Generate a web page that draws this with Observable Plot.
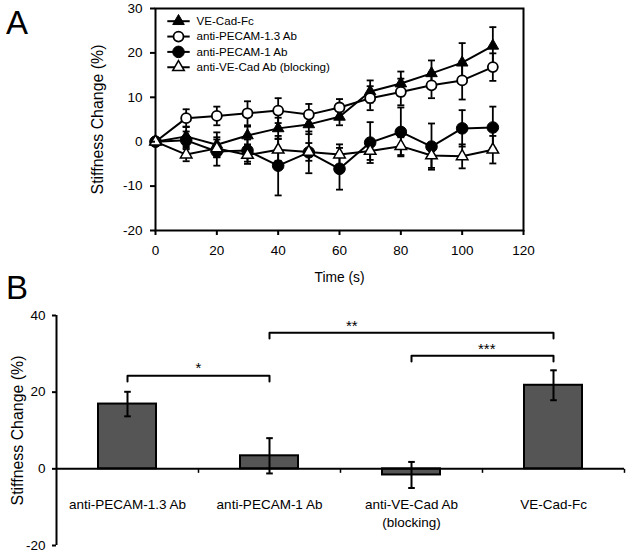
<!DOCTYPE html>
<html>
<head>
<meta charset="utf-8">
<script src="https://cdn.jsdelivr.net/npm/d3@7"></script>
<script src="https://cdn.jsdelivr.net/npm/@observablehq/plot@0.6"></script>
<style>
  body { margin: 0; background: #fff; font-family: "Liberation Sans", Arial, sans-serif; }
  #wrap { position: relative; width: 630px; height: 554px; overflow: hidden; background: #fff; }
  #wrap svg { position: absolute; }
  .panel { position: absolute; font-size: 33px; line-height: 1; color: #000; }
</style>
</head>
<body>
<div id="wrap">
  <div class="panel" style="left:6px; top:6px;">A</div>
  <div class="panel" style="left:6px; top:271px;">B</div>
</div>
<script>
// ---------- Panel A data ----------
const times = [0, 10, 20, 30, 40, 50, 60, 70, 80, 90, 100, 110];
const seriesNames = ["VE-Cad-Fc", "anti-PECAM-1.3 Ab", "anti-PECAM-1 Ab", "anti-VE-Cad Ab (blocking)"];
const veCadFc      = [0, 1.2, -0.7, 1.4, 3.0, 3.9, 5.6, 11.3, 13.1, 15.4, 17.8, 21.6];
const veCadFcErr   = [0, 2.2, 2.8, 2.0, 2.4, 2.2, 1.9, 2.5, 2.7, 2.9, 4.4, 4.2];
const pecam13      = [0, 5.3, 5.8, 6.4, 7.0, 6.1, 7.7, 9.8, 11.2, 12.7, 13.8, 16.8];
const pecam13Err   = [0, 2.0, 2.1, 2.7, 2.8, 2.4, 1.9, 2.7, 3.0, 2.9, 4.3, 3.1];
const pecam1       = [0, 0.3, -2.2, -2.0, -5.4, -2.4, -6.1, -0.2, 2.2, -1.1, 3.0, 3.2];
const pecam1Err    = [0, 2.0, 3.2, 2.5, 6.7, 4.7, 4.7, 4.6, 5.5, 5.2, 4.1, 4.7];
const blocking     = [0, -2.9, -1.5, -3.0, -1.8, -2.3, -2.9, -2.1, -1.0, -3.1, -3.3, -1.8];
const blockingErr  = [0, 1.5, 2.0, 2.0, 2.5, 2.0, 2.3, 2.0, 2.0, 2.8, 2.7, 3.1];
const xTicksA = [0, 20, 40, 60, 80, 100, 120];
const yTicksA = [-20, -10, 0, 10, 20, 30];

// ---------- Panel B data ----------
const barCategories = ["anti-PECAM-1.3 Ab", "anti-PECAM-1 Ab", "anti-VE-Cad Ab\n(blocking)", "VE-Cad-Fc"];
const barValues = [16.9, 3.4, -1.6, 21.8];
const barErrors = [3.2, 4.6, 3.4, 3.9];
const yTicksB = [-20, 0, 20, 40];
const brackets = [
  {from: 0, to: 1, level: 24.3, label: "*", at: 1.0},
  {from: 1, to: 3, level: 35.5, label: "**", at: 2.08},
  {from: 2, to: 3, level: 29.5, label: "***", at: 3.03}
];

// ---------- helpers ----------
const FONT = '"Liberation Sans", Arial, sans-serif';
const fmt = d => String(d); // plain hyphen-minus like the original
const hLine = {draw(ctx, size) { const r = Math.sqrt(size / Math.PI); ctx.moveTo(-r, 0); ctx.lineTo(r, 0); }};
const vTickDown = {draw(ctx, size) { const r = Math.sqrt(size / Math.PI); ctx.moveTo(0, 0); ctx.lineTo(0, r); }};

const styles = [
  {symbol: "triangle", r: 4.3, fill: "black", strokeWidth: 1},
  {symbol: "circle", r: 5, fill: "white", strokeWidth: 1.8},
  {symbol: "circle", r: 5.8, fill: "black", strokeWidth: 1},
  {symbol: "triangle", r: 4.3, fill: "white", strokeWidth: 1.5}
];
const vals = [veCadFc, pecam13, pecam1, blocking];
const errs = [veCadFcErr, pecam13Err, pecam1Err, blockingErr];

const wrap = document.getElementById("wrap");

// ---------- Panel A ----------
const marksA = [];
marksA.push(Plot.frame({stroke: "black", strokeWidth: 2}));
seriesNames.forEach((name, s) => {
  const rows = times.map((t, i) => ({t, v: vals[s][i], e: errs[s][i]}));
  const withErr = rows.filter(d => d.e > 0);
  const st = styles[s];
  marksA.push(
    Plot.ruleX(withErr, {x: "t", y1: d => d.v - d.e, y2: d => d.v + d.e, stroke: "black", strokeWidth: 1.8}),
    Plot.dot(withErr, {x: "t", y: d => d.v + d.e, symbol: hLine, r: 3.5, fill: "none", stroke: "black", strokeWidth: 1.8}),
    Plot.dot(withErr, {x: "t", y: d => d.v - d.e, symbol: hLine, r: 3.5, fill: "none", stroke: "black", strokeWidth: 1.8}),
    Plot.line(rows, {x: "t", y: "v", stroke: "black", strokeWidth: 2}),
    Plot.dot(rows, {x: "t", y: "v", symbol: st.symbol, r: st.r, fill: st.fill, stroke: "black", strokeWidth: st.strokeWidth})
  );
});
// legend
seriesNames.forEach((name, s) => {
  const st = styles[s];
  const dy = 12.7 + 15.35 * s;
  marksA.push(
    Plot.dot([name], {frameAnchor: "top-left", dx: 23, dy, symbol: hLine, r: 11.2, fill: "none", stroke: "black", strokeWidth: 2}),
    Plot.dot([name], {frameAnchor: "top-left", dx: 23, dy, symbol: st.symbol, r: st.r, fill: st.fill, stroke: "black", strokeWidth: st.strokeWidth}),
    Plot.text([name], {frameAnchor: "top-left", dx: 41, dy, text: d => d, textAnchor: "start", lineAnchor: "middle", fontSize: 11.6, fill: "black"})
  );
});
marksA.push(
  Plot.axisX({ticks: xTicksA, tickFormat: fmt, tickSize: 5, tickPadding: 10, fontSize: 13.5, label: null, stroke: "black", strokeWidth: 2}),
  Plot.axisY({ticks: yTicksA, tickFormat: fmt, tickSize: 5, tickPadding: 8, fontSize: 13.5, label: null, stroke: "black", strokeWidth: 2}),
  Plot.text(["Time (s)"], {frameAnchor: "bottom", dy: 42, textAnchor: "middle", lineAnchor: "top", fontSize: 13.8, fill: "black"}),
  Plot.text(["Stiffness Change (%)"], {frameAnchor: "left", dx: -58, rotate: -90, textAnchor: "middle", lineAnchor: "middle", fontSize: 15.9, fill: "black"})
);
const plotA = Plot.plot({
  width: 540, height: 290,
  marginLeft: 155, marginRight: 17, marginTop: 8, marginBottom: 60,
  x: {domain: [0, 120]},
  y: {domain: [-20, 30]},
  style: {fontFamily: FONT, fontSize: "13px", background: "transparent", color: "black", overflow: "visible"},
  marks: marksA
});
plotA.style.left = "0px"; plotA.style.top = "0px";
wrap.appendChild(plotA);

// ---------- Panel B ----------
const bars = barCategories.map((c, i) => ({i, c, v: barValues[i], e: barErrors[i]}));
const bracketPts = brackets.flatMap((b, k) => [
  {k, x: b.from + 0.5, y: b.level - 1.5},
  {k, x: b.from + 0.5, y: b.level},
  {k, x: b.to + 0.5, y: b.level},
  {k, x: b.to + 0.5, y: b.level - 1.5}
]);
const plotB = Plot.plot({
  width: 630, height: 264,
  marginLeft: 56, marginRight: 6, marginTop: 25, marginBottom: 9,
  x: {domain: [0, 4], axis: null},
  y: {domain: [-20, 40]},
  style: {fontFamily: FONT, fontSize: "13px", background: "transparent", color: "black", overflow: "visible"},
  marks: [
    Plot.rect(bars, {x1: d => d.i, x2: d => d.i + 1, y1: 0, y2: "v", insetLeft: 42, insetRight: 42, fill: "#555555", stroke: "black", strokeWidth: 2}),
    Plot.ruleY([0], {stroke: "black", strokeWidth: 2}),
    Plot.ruleX([0], {stroke: "black", strokeWidth: 2}),
    Plot.dot([1, 2, 3, 4], {x: d => d, y: 0, symbol: vTickDown, r: 4, fill: "none", stroke: "black", strokeWidth: 1.5}),
    Plot.ruleX(bars, {x: d => d.i + 0.5, y1: d => d.v - d.e, y2: d => d.v + d.e, stroke: "black", strokeWidth: 2}),
    Plot.dot(bars, {x: d => d.i + 0.5, y: d => d.v + d.e, symbol: hLine, r: 3.3, fill: "none", stroke: "black", strokeWidth: 2}),
    Plot.dot(bars, {x: d => d.i + 0.5, y: d => d.v - d.e, symbol: hLine, r: 3.3, fill: "none", stroke: "black", strokeWidth: 2}),
    Plot.line(bracketPts, {x: "x", y: "y", z: "k", stroke: "black", strokeWidth: 2}),
    Plot.text(brackets, {x: "at", y: "level", text: "label", dy: -7, fontSize: 15, fill: "black"}),
    Plot.text(bars, {x: d => d.i + 0.5, y: 0, text: "c", lineAnchor: "top", dy: 28, lineHeight: 1.32, fontSize: 13.5, fill: "black"}),
    Plot.axisY({ticks: yTicksB, tickFormat: fmt, tickSize: 4, tickPadding: 7, fontSize: 13.5, label: null, stroke: "black", strokeWidth: 2}),
    Plot.text(["Stiffness Change (%)"], {frameAnchor: "left", dx: -39, rotate: -90, textAnchor: "middle", lineAnchor: "middle", fontSize: 15.9, fill: "black"})
  ]
});
plotB.style.left = "0px"; plotB.style.top = "290px";
wrap.appendChild(plotB);
</script>
</body>
</html>
